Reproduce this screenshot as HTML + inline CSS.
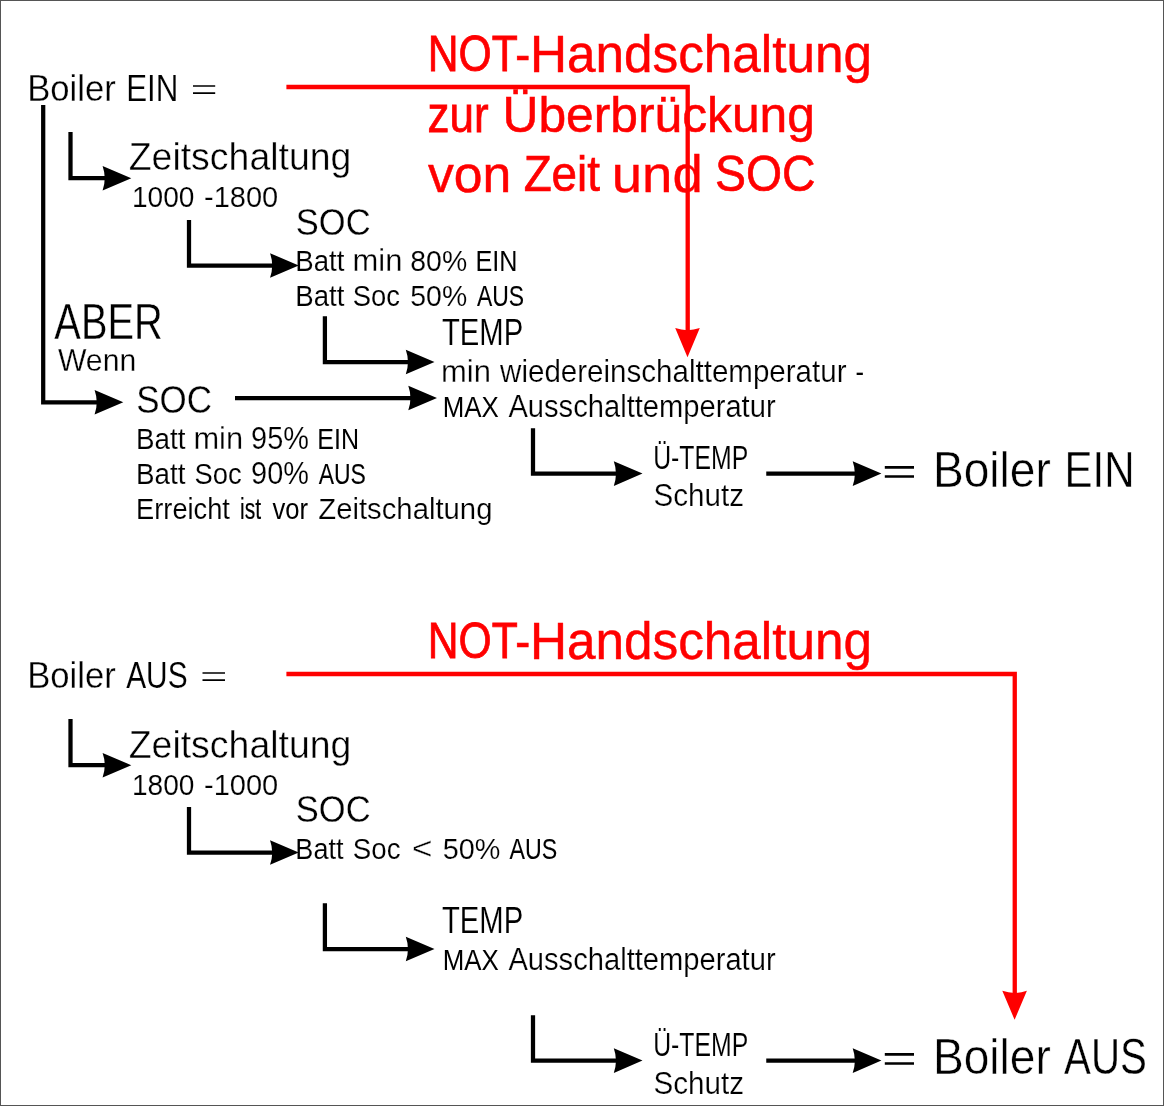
<!DOCTYPE html>
<html><head><meta charset="utf-8"><title>Boiler Schaltung</title>
<style>
html,body{margin:0;padding:0;background:#fff;}
body{width:1164px;height:1106px;overflow:hidden;}
svg{display:block;font-family:"Liberation Sans",sans-serif;will-change:transform;}
</style></head><body>
<svg width="1164" height="1106" viewBox="0 0 1164 1106">
<rect x="0.5" y="0.5" width="1163" height="1105" fill="#fff" stroke="#555" stroke-width="1"/>
<text transform="translate(27.18 101.12) scale(0.9160 1)" font-size="37.84" fill="#000" stroke="#fff" stroke-width="0.29">Boiler</text>
<text transform="translate(126.24 101.07) scale(0.8304 1)" font-size="37.70" fill="#000" stroke="#fff" stroke-width="0.17">EIN</text>
<text transform="translate(128.68 169.65) scale(0.9874 1)" font-size="37.94" fill="#000" stroke="#fff" stroke-width="0.38">Zeitschaltung</text>
<text transform="translate(131.93 207.06) scale(0.9261 1)" font-size="30.37" fill="#000" stroke="#fff" stroke-width="0.15">1000</text>
<text transform="translate(204.02 207.08) scale(0.9547 1)" font-size="30.42" fill="#000" stroke="#fff" stroke-width="0.19">-1800</text>
<text transform="translate(295.81 234.61) scale(0.9119 1)" font-size="37.83" fill="#000" stroke="#fff" stroke-width="0.28">SOC</text>
<text transform="translate(295.29 271.30) scale(0.9109 1)" font-size="30.34" fill="#000" stroke="#fff" stroke-width="0.12">Batt</text>
<text transform="translate(352.45 271.36) scale(1.0145 1)" font-size="30.53" fill="#000" stroke="#fff" stroke-width="0.28">min</text>
<text transform="translate(410.30 271.31) scale(0.9350 1)" font-size="30.39" fill="#000" stroke="#fff" stroke-width="0.16">80%</text>
<text transform="translate(475.53 271.25) scale(0.8346 1)" font-size="30.21" fill="#000">EIN</text>
<text transform="translate(295.29 306.30) scale(0.9109 1)" font-size="30.34" fill="#000" stroke="#fff" stroke-width="0.12">Batt</text>
<text transform="translate(352.85 306.29) scale(0.9017 1)" font-size="30.33" fill="#000" stroke="#fff" stroke-width="0.11">Soc</text>
<text transform="translate(410.30 306.31) scale(0.9350 1)" font-size="30.39" fill="#000" stroke="#fff" stroke-width="0.16">50%</text>
<text transform="translate(477.04 306.21) scale(0.7620 1)" font-size="30.08" fill="#000" stroke="#000" stroke-width="0.1">AUS</text>
<text transform="translate(441.99 345.05) scale(0.7879 1)" font-size="37.14" fill="#000" stroke="#fff" stroke-width="0.12">TEMP</text>
<text transform="translate(440.95 382.11) scale(1.0145 1)" font-size="30.53" fill="#000" stroke="#fff" stroke-width="0.28">min</text>
<text transform="translate(500.12 382.09) scale(0.9697 1)" font-size="30.46" fill="#000" stroke="#fff" stroke-width="0.22">wiedereinschalttemperatur</text>
<text transform="translate(855.44 382.02) scale(0.8441 1)" font-size="30.25" fill="#000">-</text>
<text transform="translate(442.71 417.02) scale(0.8556 1)" font-size="30.25" fill="#000">MAX</text>
<text transform="translate(508.42 417.08) scale(0.9578 1)" font-size="30.43" fill="#000" stroke="#fff" stroke-width="0.2">Ausschalttemperatur</text>
<text transform="translate(653.21 469.14) scale(0.7675 1)" font-size="32.32" fill="#000" stroke="#fff" stroke-width="0.1">Ü-TEMP</text>
<text transform="translate(653.49 505.79) scale(0.9719 1)" font-size="30.46" fill="#000" stroke="#fff" stroke-width="0.22">Schutz</text>
<text transform="translate(932.94 486.96) scale(0.9248 1)" font-size="49.90" fill="#000" stroke="#fff" stroke-width="0.52">Boiler</text>
<text transform="translate(1064.56 486.91) scale(0.8441 1)" font-size="49.77" fill="#000" stroke="#fff" stroke-width="0.4">EIN</text>
<text transform="translate(427.80 71.42) scale(0.8436 1)" font-size="50.55" fill="#ff0000" stroke="#ff0000" stroke-width="0.82">NOT</text>
<text transform="translate(515.29 71.46) scale(0.8861 1)" font-size="50.66" fill="#ff0000" stroke="#ff0000" stroke-width="0.72">-</text>
<text transform="translate(529.88 71.56) scale(1.0072 1)" font-size="50.94" fill="#ff0000" stroke="#ff0000" stroke-width="0.48">Handschaltung</text>
<text transform="translate(27.18 688.12) scale(0.9160 1)" font-size="37.84" fill="#000" stroke="#fff" stroke-width="0.29">Boiler</text>
<text transform="translate(126.20 688.05) scale(0.7927 1)" font-size="37.64" fill="#000" stroke="#fff" stroke-width="0.12">AUS</text>
<text transform="translate(128.68 757.65) scale(0.9874 1)" font-size="37.94" fill="#000" stroke="#fff" stroke-width="0.38">Zeitschaltung</text>
<text transform="translate(131.93 794.86) scale(0.9261 1)" font-size="30.37" fill="#000" stroke="#fff" stroke-width="0.15">1800</text>
<text transform="translate(204.02 794.88) scale(0.9547 1)" font-size="30.42" fill="#000" stroke="#fff" stroke-width="0.19">-1000</text>
<text transform="translate(295.81 821.61) scale(0.9119 1)" font-size="37.83" fill="#000" stroke="#fff" stroke-width="0.28">SOC</text>
<text transform="translate(295.35 858.79) scale(0.8920 1)" font-size="30.32" fill="#000" stroke="#fff" stroke-width="0.1">Batt</text>
<text transform="translate(352.83 858.80) scale(0.9111 1)" font-size="30.35" fill="#000" stroke="#fff" stroke-width="0.13">Soc</text>
<text transform="translate(411.87 858.95) scale(1.1630 1)" font-size="30.78" fill="#000" stroke="#fff" stroke-width="0.5">&lt;</text>
<text transform="translate(442.78 858.82) scale(0.9472 1)" font-size="30.41" fill="#000" stroke="#fff" stroke-width="0.18">50%</text>
<text transform="translate(509.54 858.71) scale(0.7700 1)" font-size="30.10" fill="#000" stroke="#000" stroke-width="0.09">AUS</text>
<text transform="translate(441.99 932.95) scale(0.7879 1)" font-size="37.14" fill="#000" stroke="#fff" stroke-width="0.12">TEMP</text>
<text transform="translate(442.71 969.92) scale(0.8556 1)" font-size="30.25" fill="#000">MAX</text>
<text transform="translate(508.42 969.98) scale(0.9578 1)" font-size="30.43" fill="#000" stroke="#fff" stroke-width="0.2">Ausschalttemperatur</text>
<text transform="translate(653.21 1056.14) scale(0.7675 1)" font-size="32.32" fill="#000" stroke="#fff" stroke-width="0.1">Ü-TEMP</text>
<text transform="translate(653.49 1093.79) scale(0.9719 1)" font-size="30.46" fill="#000" stroke="#fff" stroke-width="0.22">Schutz</text>
<text transform="translate(932.94 1073.96) scale(0.9248 1)" font-size="49.90" fill="#000" stroke="#fff" stroke-width="0.52">Boiler</text>
<text transform="translate(1064.11 1073.89) scale(0.8093 1)" font-size="49.71" fill="#000" stroke="#fff" stroke-width="0.35">AUS</text>
<text transform="translate(427.80 658.42) scale(0.8436 1)" font-size="50.55" fill="#ff0000" stroke="#ff0000" stroke-width="0.82">NOT</text>
<text transform="translate(515.29 658.46) scale(0.8861 1)" font-size="50.66" fill="#ff0000" stroke="#ff0000" stroke-width="0.72">-</text>
<text transform="translate(529.88 658.56) scale(1.0072 1)" font-size="50.94" fill="#ff0000" stroke="#ff0000" stroke-width="0.48">Handschaltung</text>
<text transform="translate(54.37 338.88) scale(0.7979 1)" font-size="49.88" fill="#000" stroke="#fff" stroke-width="0.33">ABER</text>
<text transform="translate(57.90 370.60) scale(0.9911 1)" font-size="30.49" fill="#000" stroke="#fff" stroke-width="0.25">Wenn</text>
<text transform="translate(136.30 412.61) scale(0.9124 1)" font-size="38.33" fill="#000" stroke="#fff" stroke-width="0.28">SOC</text>
<text transform="translate(136.03 448.80) scale(0.9156 1)" font-size="30.35" fill="#000" stroke="#fff" stroke-width="0.13">Batt</text>
<text transform="translate(193.46 448.86) scale(1.0090 1)" font-size="30.53" fill="#000" stroke="#fff" stroke-width="0.28">min</text>
<text transform="translate(251.07 448.83) scale(0.9504 1)" font-size="30.42" fill="#000" stroke="#fff" stroke-width="0.19">95%</text>
<text transform="translate(317.29 448.75) scale(0.8293 1)" font-size="30.20" fill="#000">EIN</text>
<text transform="translate(136.03 483.80) scale(0.9156 1)" font-size="30.35" fill="#000" stroke="#fff" stroke-width="0.13">Batt</text>
<text transform="translate(194.60 483.79) scale(0.9017 1)" font-size="30.33" fill="#000" stroke="#fff" stroke-width="0.11">Soc</text>
<text transform="translate(251.07 483.83) scale(0.9504 1)" font-size="30.42" fill="#000" stroke="#fff" stroke-width="0.19">90%</text>
<text transform="translate(318.79 483.71) scale(0.7620 1)" font-size="30.08" fill="#000" stroke="#000" stroke-width="0.1">AUS</text>
<text transform="translate(136.08 518.79) scale(0.8987 1)" font-size="30.32" fill="#000" stroke="#fff" stroke-width="0.1">Erreicht</text>
<text transform="translate(240.00 518.68) scale(0.7036 1)" font-size="29.99" fill="#000" stroke="#000" stroke-width="0.18">ist</text>
<text transform="translate(272.49 518.76) scale(0.8488 1)" font-size="30.23" fill="#000">vor</text>
<text transform="translate(318.25 518.83) scale(0.9625 1)" font-size="30.43" fill="#000" stroke="#fff" stroke-width="0.2">Zeitschaltung</text>
<text transform="translate(427.53 131.59) scale(0.8688 1)" font-size="50.60" fill="#ff0000" stroke="#ff0000" stroke-width="0.77">zur</text>
<text transform="translate(502.51 131.68) scale(0.9782 1)" font-size="50.87" fill="#ff0000" stroke="#ff0000" stroke-width="0.54">Überbrückung</text>
<text transform="translate(427.89 191.56) scale(1.0143 1)" font-size="50.95" fill="#ff0000" stroke="#ff0000" stroke-width="0.47">von</text>
<text transform="translate(523.65 191.47) scale(0.9032 1)" font-size="50.69" fill="#ff0000" stroke="#ff0000" stroke-width="0.7">Zeit</text>
<text transform="translate(611.73 191.61) scale(1.0688 1)" font-size="51.08" fill="#ff0000" stroke="#ff0000" stroke-width="0.36">und</text>
<text transform="translate(715.02 191.48) scale(0.9146 1)" font-size="50.72" fill="#ff0000" stroke="#ff0000" stroke-width="0.67">SOC</text>
<path d="M43.20 105.00 V402.30 H103.30" fill="none" stroke="#000" stroke-width="4.25" stroke-linejoin="miter"/><path d="M123.30 402.30 L94.60 390.00 Q98.89 402.30 94.60 414.60 Z" fill="#000"/>
<path d="M70.50 132.00 V178.20 H111.30" fill="none" stroke="#000" stroke-width="4.25" stroke-linejoin="miter"/><path d="M131.30 178.20 L102.60 165.90 Q106.89 178.20 102.60 190.50 Z" fill="#000"/>
<path d="M189.00 220.00 V265.50 H278.75" fill="none" stroke="#000" stroke-width="4.25" stroke-linejoin="miter"/><path d="M298.75 265.50 L270.05 253.20 Q274.34 265.50 270.05 277.80 Z" fill="#000"/>
<path d="M324.90 316.25 V362.00 H414.50" fill="none" stroke="#000" stroke-width="4.25" stroke-linejoin="miter"/><path d="M434.50 362.00 L405.80 349.70 Q410.09 362.00 405.80 374.30 Z" fill="#000"/>
<path d="M533.00 428.25 V473.60 H622.50" fill="none" stroke="#000" stroke-width="4.25" stroke-linejoin="miter"/><path d="M642.50 473.60 L613.80 461.30 Q618.09 473.60 613.80 485.90 Z" fill="#000"/>
<path d="M766.25 473.60 H861.40" fill="none" stroke="#000" stroke-width="4.25"/><path d="M881.40 473.60 L852.70 461.30 Q856.99 473.60 852.70 485.90 Z" fill="#000"/>
<path d="M884.8 467.4 H914 M884.8 476.5 H914" stroke="#000" stroke-width="2.7" fill="none"/>
<path d="M70.50 719.00 V765.20 H111.30" fill="none" stroke="#000" stroke-width="4.25" stroke-linejoin="miter"/><path d="M131.30 765.20 L102.60 752.90 Q106.89 765.20 102.60 777.50 Z" fill="#000"/>
<path d="M189.00 807.00 V852.50 H278.75" fill="none" stroke="#000" stroke-width="4.25" stroke-linejoin="miter"/><path d="M298.75 852.50 L270.05 840.20 Q274.34 852.50 270.05 864.80 Z" fill="#000"/>
<path d="M324.90 903.25 V949.00 H414.50" fill="none" stroke="#000" stroke-width="4.25" stroke-linejoin="miter"/><path d="M434.50 949.00 L405.80 936.70 Q410.09 949.00 405.80 961.30 Z" fill="#000"/>
<path d="M533.00 1015.25 V1060.60 H622.50" fill="none" stroke="#000" stroke-width="4.25" stroke-linejoin="miter"/><path d="M642.50 1060.60 L613.80 1048.30 Q618.09 1060.60 613.80 1072.90 Z" fill="#000"/>
<path d="M766.25 1060.60 H861.40" fill="none" stroke="#000" stroke-width="4.25"/><path d="M881.40 1060.60 L852.70 1048.30 Q856.99 1060.60 852.70 1072.90 Z" fill="#000"/>
<path d="M884.8 1054.4 H914 M884.8 1063.5 H914" stroke="#000" stroke-width="2.7" fill="none"/>
<path d="M235.00 398.00 H417.00" fill="none" stroke="#000" stroke-width="4.25"/><path d="M437.00 398.00 L408.30 385.70 Q412.59 398.00 408.30 410.30 Z" fill="#000"/>
<path d="M193 86 H215.2 M193 93.1 H215.2" stroke="#000" stroke-width="1.7" fill="none"/>
<path d="M202.5 673 H225 M202.5 680.1 H225" stroke="#000" stroke-width="1.7" fill="none"/>
<path d="M286.4 87 H687.7 V335" fill="none" stroke="#ff0000" stroke-width="4.3" stroke-linejoin="miter"/><path d="M687.50 357.20 L675.20 328.00 Q687.50 332.29 699.80 328.00 Z" fill="#ff0000"/>
<path d="M286.4 674 H1014.75 V998" fill="none" stroke="#ff0000" stroke-width="4.3" stroke-linejoin="miter"/><path d="M1014.60 1019.80 L1002.30 990.80 Q1014.60 995.09 1026.90 990.80 Z" fill="#ff0000"/>
</svg>
</body></html>
